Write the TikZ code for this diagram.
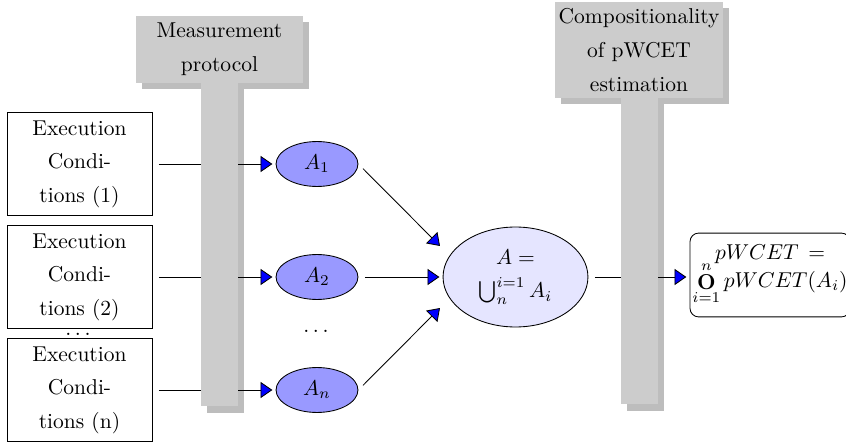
\documentclass[tikz,border=0pt]{standalone}
\usetikzlibrary{shapes.geometric,arrows.meta}
\begin{document}
\begin{tikzpicture}[x=0.4651pt,y=-0.4651pt,
  execbox/.style={draw, minimum width=67.4pt, minimum height=47.6pt, inner sep=0pt, align=center, font=\linespread{1.3}\selectfont},
  aell/.style={ellipse, draw, fill=blue!40, minimum width=38.1pt, minimum height=20.9pt, inner sep=0pt},
  bigell/.style={ellipse, draw, fill=blue!10, minimum width=67.4pt, minimum height=46.5pt, inner sep=0pt, align=center, font=\linespread{1.3}\selectfont},
  resbox/.style={draw, rounded corners=4pt, minimum width=74.4pt, minimum height=39pt, inner sep=0pt, align=center},
  labelbox/.style={fill=gray!40, inner sep=0pt, align=center, font=\linespread{1.3}\selectfont},
  shadowfill/.style={fill=gray!52},
  barfill/.style={fill=gray!40},
  arr/.style={draw, -{Triangle[length=5.5pt,width=7.5pt,fill=blue]}, shorten <=3pt, shorten >=1.5pt}
]
\clip (0,0) rectangle (846,443);
\useasboundingbox (0,0) rectangle (846,443);
% label shadows
\fill[shadowfill] (142,22) rectangle (309,89);
\fill[shadowfill] (561,8) rectangle (729,104);
% bar shadows
\fill[shadowfill] (207,60) rectangle (244,413);
\fill[shadowfill] (627,60) rectangle (664,411);
% nodes
\node[execbox] (e1) at (79.5,164) {Execution\\Condi-\\tions (1)};
\node[execbox] (e2) at (79.5,277) {Execution\\Condi-\\tions (2)};
\node[execbox] (e3) at (79.5,390) {Execution\\Condi-\\tions (n)};
\node[inner sep=0pt] (d1) at (78,334) {$\dots$};
\node[aell] (a1) at (317,164) {$A_1$};
\node[aell] (a2) at (317,277) {$A_2$};
\node[aell] (a3) at (317,390) {$A_n$};
\node (d2) at (316,331) {$\dots$};
\node[bigell] (A) at (515.5,277) {$A=$\\$\bigcup_n^{i=1} A_i$};
\node[resbox] (R) at (770,275) {$pWCET\,=$\\[-2pt]$\mathop{\mathbf{O}}\limits_{i=1}^{n} pWCET(A_i)$};
\coordinate (in1) at (440,246);
\coordinate (in3) at (440,308);
% connectors
\draw[arr] (e1.east) -- (a1.west);
\draw[arr] (e2.east) -- (a2.west);
\draw[arr] (e3.east) -- (a3.west);
\draw[arr, shorten >=0pt] (a1.east) -- (in1);
\draw[arr] (a2.east) -- (A.west);
\draw[arr, shorten >=0pt] (a3.east) -- (in3);
\draw[arr] (A.east) -- (A.east -| R.west);
% bars
\fill[barfill] (201,60) rectangle (238,406);
\fill[barfill] (621,60) rectangle (658,404);
% labels
\node[labelbox, minimum width=77.7pt, minimum height=31.2pt] (L1) at (219.5,49.5) {Measurement\\protocol};
\node[labelbox, minimum width=78.1pt, minimum height=44.7pt] (L2) at (639,50) {Compositionality\\of pWCET\\estimation};
\end{tikzpicture}
\end{document}
